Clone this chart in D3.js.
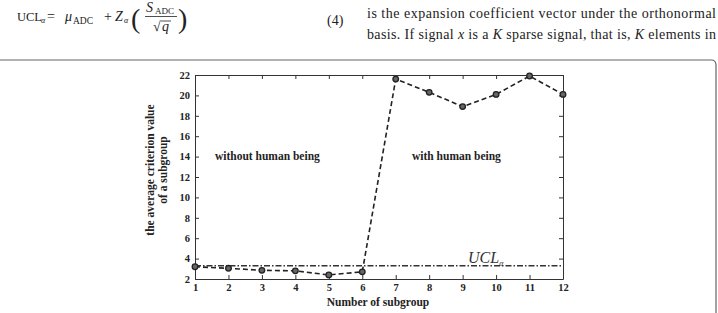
<!DOCTYPE html>
<html>
<head>
<meta charset="utf-8">
<script src="https://cdn.jsdelivr.net/npm/d3@7"></script>
<style>
  body { margin: 0; background: #fff; }
  svg { display: block; }
  text { font-family: "Liberation Serif", "DejaVu Serif", serif; }
</style>
</head>
<body>
<div id="chart"></div>
<script>
// chart values
let subgroups = [1, 2, 3, 4, 5, 6, 7, 8, 9, 10, 11, 12];
let criterionValues = [3.2, 3.05, 2.85, 2.8, 2.4, 2.7, 21.6, 20.3, 18.9, 20.1, 21.9, 20.1];
let uclValue = 3.3;
let yTicks = [2, 4, 6, 8, 10, 12, 14, 16, 18, 20, 22];
let regionLabels = ["without human being", "with human being"];

function renderChart() {
    const wSvg = 718;
    const hSvg = 313;
    const left = 195, right = 563, top = 75, bottom = 279;
    const ink = "#333";

    let svg = d3.select("#chart")
        .append("svg")
        .attr("width", wSvg)
        .attr("height", hSvg);

    // --- text from the page above the figure ---
    let eq = svg.append("g").attr("fill", "#222").style("font-size", "14px");
    eq.append("text").attr("x", 17).attr("y", 21).style("font-size", "12.5px").text("UCL");
    eq.append("text").attr("x", 41).attr("y", 23).style("font-size", "8px").style("font-style", "italic").text("α");
    eq.append("text").attr("x", 47).attr("y", 21).text("=");
    eq.append("text").attr("x", 65).attr("y", 21).style("font-style", "italic").text("μ");
    eq.append("text").attr("x", 73).attr("y", 24).style("font-size", "9.5px").text("ADC");
    eq.append("text").attr("x", 104).attr("y", 21).text("+");
    eq.append("text").attr("x", 115).attr("y", 21).style("font-style", "italic").text("Z");
    eq.append("text").attr("x", 124).attr("y", 23).style("font-size", "8px").style("font-style", "italic").text("α");
    eq.append("text").attr("x", 131).attr("y", 28).style("font-size", "28px").text("(");
    eq.append("text").attr("x", 146).attr("y", 12).style("font-style", "italic").text("S");
    eq.append("text").attr("x", 155).attr("y", 14).style("font-size", "9px").text("ADC");
    eq.append("line").attr("x1", 145).attr("x2", 177).attr("y1", 16.5).attr("y2", 16.5).attr("stroke", "#222").attr("stroke-width", 0.8);
    eq.append("text").attr("x", 153).attr("y", 31).text("√");
    eq.append("line").attr("x1", 161).attr("x2", 171).attr("y1", 21).attr("y2", 21).attr("stroke", "#222").attr("stroke-width", 0.8);
    eq.append("text").attr("x", 162).attr("y", 31).style("font-style", "italic").text("q");
    eq.append("text").attr("x", 178).attr("y", 28).style("font-size", "28px").text(")");
    eq.append("text").attr("x", 327).attr("y", 25).text("(4)");

    let para = svg.append("g").attr("fill", "#222").style("font-size", "14px");
    para.append("text").attr("x", 367).attr("y", 18)
        .attr("textLength", 349).attr("lengthAdjust", "spacing")
        .text("is the expansion coefficient vector under the orthonormal");
    let line2 = para.append("text").attr("x", 367).attr("y", 39)
        .attr("textLength", 349).attr("lengthAdjust", "spacing");
    line2.append("tspan").text("basis. If signal ");
    line2.append("tspan").style("font-style", "italic").text("x");
    line2.append("tspan").text(" is a ");
    line2.append("tspan").style("font-style", "italic").text("K");
    line2.append("tspan").text(" sparse signal, that is, ");
    line2.append("tspan").style("font-style", "italic").text("K");
    line2.append("tspan").text(" elements in");

    // figure frame
    svg.append("path")
        .attr("d", "M -5 60 H 711 Q 716 60 716 65 V 320")
        .attr("fill", "none")
        .attr("stroke", "#666")
        .attr("stroke-width", 1.2);

    // --- scales ---
    let xScale = d3.scaleLinear([1, 12], [left, right]);
    let yScale = d3.scaleLinear([2, 22], [bottom, top]);

    let axisFont = g => g.selectAll("text")
        .attr("fill", "#222")
        .style("font-size", "10.5px")
        .style("font-weight", "bold");

    svg.append("g")
        .attr("transform", `translate(0, ${bottom})`)
        .call(d3.axisBottom(xScale).tickValues(subgroups).tickFormat(d3.format("d")).tickSizeInner(-4).tickSizeOuter(0).tickPadding(5))
        .call(axisFont);
    svg.append("g")
        .attr("transform", `translate(0, ${top})`)
        .call(d3.axisTop(xScale).tickValues(subgroups).tickFormat("").tickSizeInner(-4).tickSizeOuter(0));
    svg.append("g")
        .attr("transform", `translate(${left}, 0)`)
        .call(d3.axisLeft(yScale).tickValues(yTicks).tickFormat(d3.format("d")).tickSizeInner(-4).tickSizeOuter(0).tickPadding(5))
        .call(axisFont);
    svg.append("g")
        .attr("transform", `translate(${right}, 0)`)
        .call(d3.axisRight(yScale).tickValues(yTicks).tickFormat("").tickSizeInner(-4).tickSizeOuter(0));

    svg.selectAll("g").attr("font-family", null);
    svg.selectAll(".domain, .tick line")
        .attr("stroke", ink)
        .attr("stroke-width", 1);

    // UCL line
    svg.append("line")
        .attr("x1", xScale(1))
        .attr("x2", xScale(12))
        .attr("y1", yScale(uclValue))
        .attr("y2", yScale(uclValue))
        .attr("stroke", ink)
        .attr("stroke-width", 1.4)
        .attr("stroke-dasharray", "6,2,1.5,2");

    // criterion values
    let line = d3.line()
        .x((d, i) => xScale(subgroups[i]))
        .y(d => yScale(d));
    svg.append("path")
        .datum(criterionValues)
        .attr("d", line)
        .attr("fill", "none")
        .attr("stroke", "#222")
        .attr("stroke-width", 1.6)
        .attr("stroke-dasharray", "5,3");

    svg.selectAll(".pt")
        .data(criterionValues)
        .enter()
        .append("circle")
        .attr("class", "pt")
        .attr("cx", (d, i) => xScale(subgroups[i]))
        .attr("cy", d => yScale(d))
        .attr("r", 2.8)
        .attr("fill", "#666")
        .attr("stroke", "#222")
        .attr("stroke-width", 1.3);

    // annotations
    svg.append("text")
        .attr("x", 215).attr("y", 160)
        .attr("fill", "#222")
        .style("font-size", "11.5px").style("font-weight", "bold")
        .text(regionLabels[0]);
    svg.append("text")
        .attr("x", 412).attr("y", 160)
        .attr("fill", "#222")
        .style("font-size", "11.5px").style("font-weight", "bold")
        .text(regionLabels[1]);

    let ucl = svg.append("text")
        .attr("x", 468).attr("y", 263)
        .attr("fill", "#333")
        .style("font-size", "16px").style("font-style", "italic");
    ucl.append("tspan").text("UCL");
    ucl.append("tspan").attr("dy", 3).style("font-size", "8px").text("α");

    // axis titles
    svg.append("text")
        .attr("transform", "translate(154, 170) rotate(-90)")
        .attr("text-anchor", "middle")
        .attr("fill", "#222")
        .style("font-size", "11.5px").style("font-weight", "bold")
        .text("the average criterion value");
    svg.append("text")
        .attr("transform", "translate(167, 170) rotate(-90)")
        .attr("text-anchor", "middle")
        .attr("fill", "#222")
        .style("font-size", "11.5px").style("font-weight", "bold")
        .text("of a subgroup");

    svg.append("text")
        .attr("x", 378).attr("y", 306)
        .attr("text-anchor", "middle")
        .attr("fill", "#222")
        .style("font-size", "11.5px").style("font-weight", "bold")
        .text("Number of subgroup");
}

renderChart();
</script>
</body>
</html>
